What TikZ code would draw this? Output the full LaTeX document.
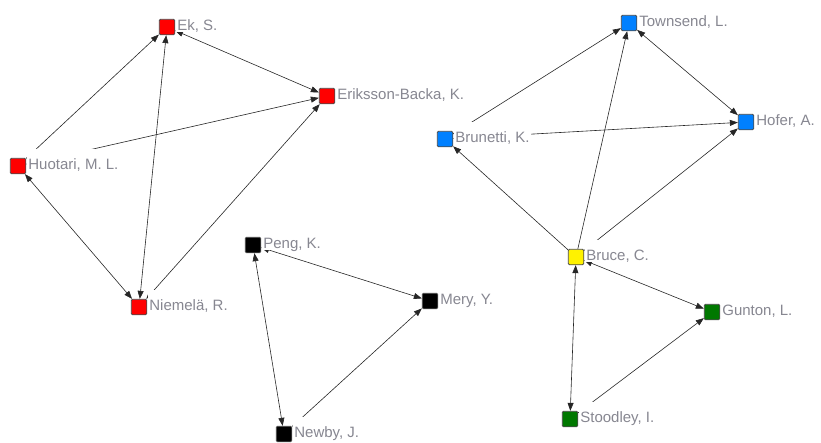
\documentclass[tikz,border=0pt]{standalone}
\usepackage{fontspec}
\setmainfont{Liberation Sans}
\usetikzlibrary{positioning, calc, arrows.meta}
\definecolor{labelgray}{RGB}{135,135,145}
\definecolor{nodeblue}{RGB}{0,128,255}
\definecolor{nodegreen}{RGB}{0,120,0}

\begin{document}
\begin{tikzpicture}[x=1pt, y=-1pt,
		sq/.style={draw=black!70, line width=0.8pt, rounded corners=1.2pt, minimum size=15.5pt, inner sep=0pt},
		lbl/.style={anchor=base west, fill=white, text=labelgray, font=\fontsize{15}{15}\selectfont, inner sep=0pt, inner xsep=1pt, text height=20pt, text depth=2pt},
		link/.style={draw=black!85, line width=0.6pt, -{Triangle[length=8pt,width=6pt]}},
		both/.style={link, {Triangle[length=8pt,width=6pt]}-{Triangle[length=8pt,width=6pt]}}]
			\useasboundingbox (0,0) rectangle (821,442);
			% left group
			\node (ek) [sq, fill=red] at (167,27) {};
			\node (eriksson) [sq, fill=red] at (327,96) {};
			\node (huotari) [sq, fill=red] at (18,166) {};
			\node (niemela) [sq, fill=red] at (139,307) {};
			% middle group
			\node (peng) [sq, fill=black] at (253,245) {};
			\node (mery) [sq, fill=black] at (430,301) {};
			\node (newby) [sq, fill=black] at (284,434) {};
			% right group
			\node (townsend) [sq, fill=nodeblue] at (629,23) {};
			\node (hofer) [sq, fill=nodeblue] at (746,122) {};
			\node (brunetti) [sq, fill=nodeblue] at (445,139) {};
			\node (bruce) [sq, fill=yellow] at (576,257) {};
			\node (gunton) [sq, fill=nodegreen] at (712,312) {};
			\node (stoodley) [sq, fill=nodegreen] at (570,419) {};
			
			\draw [link] (huotari) -- (ek);
			\draw [both] (niemela) -- (ek);
			\draw [both] (eriksson) -- (ek);
			\draw [both] (huotari) -- (eriksson);
			\draw [both] (niemela) -- (huotari);
			\draw [both] (niemela) -- (eriksson);
			
			\draw [both] (peng) -- (mery);
			\draw [both] (peng) -- (newby);
			\draw [both] (newby) -- (mery);
			
			\draw [link] (brunetti) -- (townsend);
			\draw [link] (bruce) -- (townsend);
			\draw [both] (townsend) -- (hofer);
			\draw [both] (brunetti) -- (hofer);
			\draw [link] (bruce) -- (brunetti);
			\draw [both] (bruce) -- (hofer);
			\draw [both] (bruce) -- (gunton);
			\draw [both] (bruce) -- (stoodley);
			\draw [link] (stoodley) -- (gunton);
			
			% labels on top, they hide the lines behind them
			\node (ekl) [lbl] at ([xshift=1pt, yshift=-3pt]ek.east) {Ek, S.};
			\node (erikssonl) [lbl] at ([xshift=1pt, yshift=-3pt]eriksson.east) {Eriksson-Backa, K.};
			\node (huotaril) [lbl] at ([xshift=1pt, yshift=-3pt]huotari.east) {Huotari, M. L.};
			\node (niemelal) [lbl] at ([xshift=1pt, yshift=-3pt]niemela.east) {Niemelä, R.};
			\node (pengl) [lbl] at ([xshift=1pt, yshift=-3pt]peng.east) {Peng, K.};
			\node (meryl) [lbl] at ([xshift=1pt, yshift=-3pt]mery.east) {Mery, Y.};
			\node (newbyl) [lbl] at ([xshift=1pt, yshift=-3pt]newby.east) {Newby, J.};
			\node (townsendl) [lbl] at ([xshift=1pt, yshift=-3pt]townsend.east) {Townsend, L.};
			\node (hoferl) [lbl] at ([xshift=1pt, yshift=-3pt]hofer.east) {Hofer, A.};
			\node (brunettil) [lbl] at ([xshift=1pt, yshift=-3pt]brunetti.east) {Brunetti, K.};
			\node (brucel) [lbl] at ([xshift=1pt, yshift=-3pt]bruce.east) {Bruce, C.};
			\node (guntonl) [lbl] at ([xshift=1pt, yshift=-3pt]gunton.east) {Gunton, L.};
			\node (stoodleyl) [lbl] at ([xshift=1pt, yshift=-3pt]stoodley.east) {Stoodley, I.};
		\end{tikzpicture}
\end{document}
